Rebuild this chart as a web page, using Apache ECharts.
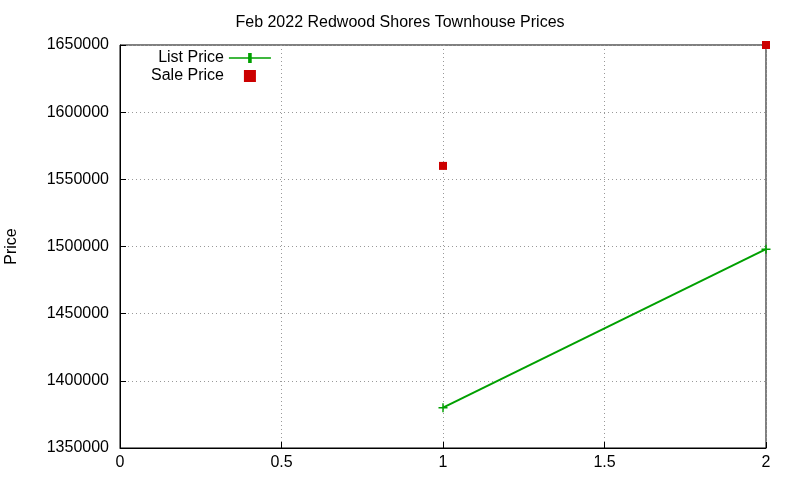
<!DOCTYPE html>
<html><head><meta charset="utf-8">
<script src="https://cdn.jsdelivr.net/npm/echarts@6/dist/echarts.min.js"></script>
<style>html,body{margin:0;padding:0;background:#fff}#c{width:800px;height:480px}</style>
</head><body><div id="c"></div>
<script>
const xValues = [1, 2];
const listPrice = [1380000, 1498000];
const salePrice = [1560000, 1650000];
const xTicks = [0, 0.5, 1, 1.5, 2];
const font = 'Liberation Sans, Arial, sans-serif';
const chart = echarts.init(document.getElementById('c'));
const plus = 'path://M4.2,0H5.8V4.2H10V5.8H5.8V10H4.2V5.8H0V4.2H4.2Z';
chart.setOption({
  animation: false,
  title: {text: 'Feb 2022 Redwood Shores Townhouse Prices', left: 'center', top: 10,
    textStyle: {fontFamily: font, fontSize: 16, fontWeight: 'normal', color: '#000'}},
  legend: {orient: 'vertical', left: 146, top: 45, align: 'right', itemGap: 2, itemWidth: 42, itemHeight: 12,
    textStyle: {fontFamily: font, fontSize: 16, color: '#000'},
    data: [
      {name: 'List Price', icon: 'path://M0,5.2H19.2V1H22.8V5.2H42V6.8H22.8V11H19.2V6.8H0Z'},
      {name: 'Sale Price', icon: 'path://M17,3H25V11H17Z'}
    ]},
  grid: {left: 120, right: 34, top: 45, bottom: 32, show: true, borderColor: '#000', borderWidth: 1,
    containLabel: false, outerBoundsMode: 'none'},
  xAxis: {type: 'value', min: 0, max: 2, interval: 0.5,
    axisLine: {lineStyle: {color: '#000'}}, axisTick: {inside: true, length: 6, lineStyle: {color: '#000'}},
    axisLabel: {fontFamily: font, fontSize: 16, color: '#000', margin: 7, formatter: v => String(v)},
    splitLine: {lineStyle: {color: '#999', type: [1, 3]}}},
  yAxis: {type: 'value', min: 1350000, max: 1650000, interval: 50000,
    name: 'Price', nameLocation: 'middle', nameGap: 100, nameRotate: 90,
    nameTextStyle: {fontFamily: font, fontSize: 16, color: '#000'},
    axisLine: {show: true, lineStyle: {color: '#000'}}, axisTick: {inside: true, length: 6, lineStyle: {color: '#000'}},
    axisLabel: {fontFamily: font, fontSize: 16, color: '#000', margin: 11, formatter: v => String(v)},
    splitLine: {lineStyle: {color: '#999', type: [1, 3]}}},
  series: [
    {name: 'List Price', type: 'line', data: xValues.map((x, i) => [x, listPrice[i]]),
      symbol: plus, symbolSize: 9, showAllSymbol: true,
      itemStyle: {color: '#00a000'}, lineStyle: {color: '#00a000', width: 2}},
    {name: 'Sale Price', type: 'scatter', data: xValues.map((x, i) => [x, salePrice[i]]),
      symbol: 'rect', symbolSize: 8, itemStyle: {color: '#cc0000', opacity: 1}}
  ]
});
</script></body></html>
